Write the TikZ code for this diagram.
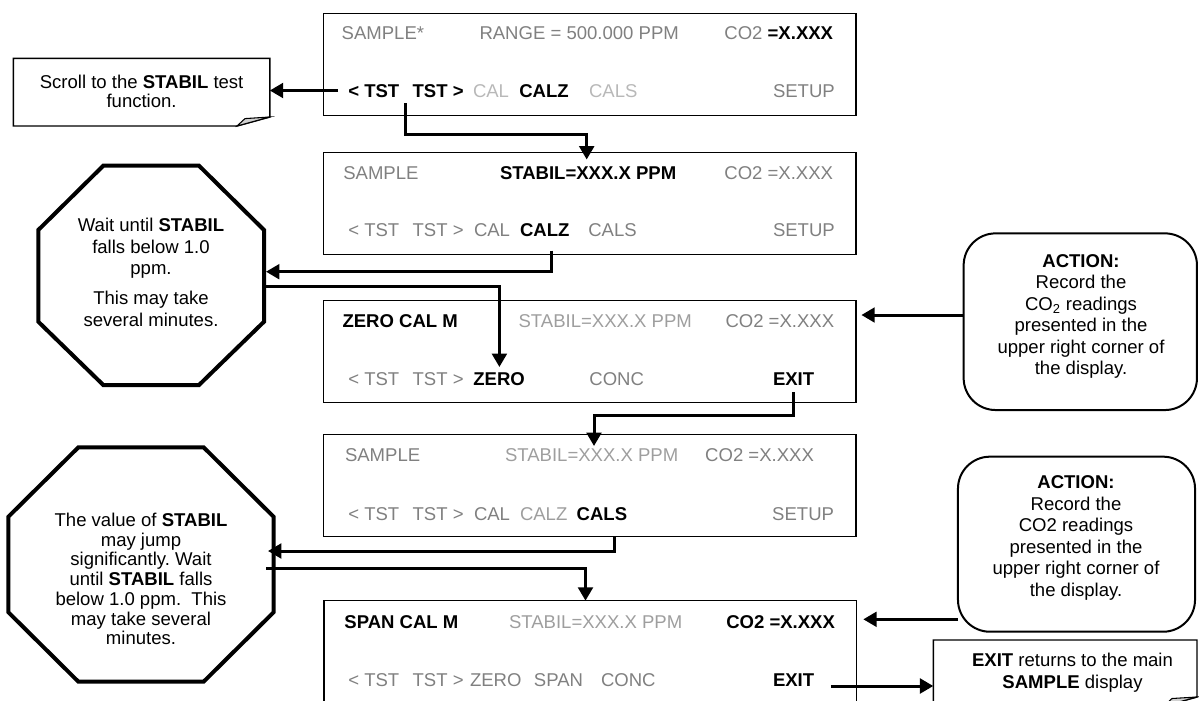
\documentclass[tikz,border=0pt]{standalone}
\usepackage{fontspec}
\setmainfont{Liberation Sans}
\usetikzlibrary{arrows.meta}
\frenchspacing
\definecolor{txtgray}{gray}{0.5}
\definecolor{ltgray}{gray}{0.62}
\definecolor{vltgray}{gray}{0.72}
\definecolor{foldgray}{gray}{0.82}
\newcommand\dfont{\fontsize{13.9}{16}\selectfont}
\begin{document}
\begin{tikzpicture}[x=0.75pt,y=-0.75pt,
  every node/.style={inner sep=0pt, outer sep=0pt},
  tx/.style={font=\dfont, anchor=base west},
  g/.style={tx, text=txtgray},
  gl/.style={tx, text=ltgray},
  gvl/.style={tx, text=vltgray},
  k/.style={tx, text=black, font=\dfont\bfseries},
  disp/.style={draw=black, line width=1pt, minimum width=399.4pt, minimum height=76.5pt},
  conn/.style={line width=2.25pt, -{Triangle[length=10pt,width=11pt]}},
  octo/.style={draw=black, line width=3pt, line join=miter, fill=white},
  actbox/.style={draw=black, line width=1.5pt, rounded corners=24pt},
  notebox/.style={draw=black, line width=1.1pt, fill=white},
  para/.style={align=center, text=black}
]
\useasboundingbox (0,0) rectangle (1199,700);

% ---------- display boxes ----------
\node[disp] (d1) at (589.75,64.2) {};
\node[disp] (d2) at (589.75,203.3) {};
\node[disp] (d3) at (589.75,351.2) {};
\node[disp] (d4) at (589.75,485.5) {};
\node[disp] (d5) at (590.25,651.7) {};

% box 1
\node[g]   (b1a) at (341.7,39) {SAMPLE*};
\node[g]   (b1b) at (479.5,39) {RANGE = 500.000 PPM};
\node[g]   (b1c) at (724.4,39) {CO2 {\color{black}\bfseries =X.XXX}};
\node[k]   (b1d) at (348.3,97) {<~TST\hspace{0.72em}TST~>};
\node[gvl] (b1e) at (473,97) {CAL};
\node[k]   (b1f) at (519.3,97) {CALZ};
\node[gvl] (b1g) at (589,97) {CALS};
\node[g]   (b1h) at (773,97) {SETUP};

% box 2
\node[g]  (b2a) at (343.3,179.6) {SAMPLE};
\node[k]  (b2b) at (500,179.6) {STABIL=XXX.X PPM};
\node[g]  (b2c) at (724.4,179.6) {CO2 =X.XXX};
\node[g]  (b2d) at (348.3,236.5) {<~TST\hspace{0.72em}TST~>};
\node[g]  (b2e) at (474,236.5) {CAL};
\node[k]  (b2f) at (520,236.5) {CALZ};
\node[g]  (b2g) at (588.3,236.5) {CALS};
\node[g]  (b2h) at (773,236.5) {SETUP};

% box 3
\node[k]  (b3a) at (342.5,327.3) {ZERO CAL M};
\node[gl] (b3b) at (518.6,327.3) {STABIL=XXX.X PPM};
\node[g]  (b3c) at (725.5,327.3) {CO2 =X.XXX};
\node[g]  (b3d) at (348.3,385.6) {<~TST\hspace{0.72em}TST~>};
\node[k]  (b3e) at (473.4,385.6) {ZERO};
\node[g]  (b3f) at (589.4,385.6) {CONC};
\node[k]  (b3g) at (773,385.6) {EXIT};

% box 4
\node[g]  (b4a) at (345,461.6) {SAMPLE};
\node[gl] (b4b) at (505,461.6) {STABIL=XXX.X PPM};
\node[g]  (b4c) at (705.2,461.6) {CO2 =X.XXX};
\node[g]  (b4d) at (348.3,520.6) {<~TST\hspace{0.72em}TST~>};
\node[g]  (b4e) at (474,520.6) {CAL};
\node[gl] (b4f) at (520,520.6) {CALZ};
\node[k]  (b4g) at (576.7,520.6) {CALS};
\node[g]  (b4h) at (772.2,520.6) {SETUP};

% box 5
\node[k]  (b5a) at (344.4,628.6) {SPAN CAL M};
\node[gl] (b5b) at (509,628.6) {STABIL=XXX.X PPM};
\node[k]  (b5c) at (726.3,628.6) {CO2 =X.XXX};
\node[g]  (b5d) at (348.3,686.6) {<~TST\hspace{0.72em}TST~>};
\node[g]  (b5e) at (470,686.6) {ZERO};
\node[g]  (b5f) at (533.9,686.6) {SPAN};
\node[g]  (b5g) at (601,686.6) {CONC};
\node[k]  (b5h) at (773,686.6) {EXIT};

% ---------- note 1 (folded corner) ----------
\draw[notebox] (13.4,58.3) -- (269.8,58.3) -- (269.8,117) -- (237,126) -- (13.4,126) -- cycle;
\draw[line width=0.8pt, fill=foldgray] (237,126) -- (245,118.6) -- (269.8,117) -- cycle;
\node[para, font=\fontsize{13.9}{14.3}\selectfont, minimum width=192.3pt, minimum height=50.8pt] (note1) at (141.6,91) {Scroll to the \textbf{STABIL} test\\function.};

% ---------- octagons ----------
\draw[octo] (103.3,165.7) -- (199,165.7) -- (264,230) -- (264,321.7) -- (199,385) -- (103.3,385) -- (38.3,321.7) -- (38.3,230) -- cycle;
\node[para, font=\fontsize{13.9}{16.1}\selectfont] (oct1) at (151,272.5) {Wait until \textbf{STABIL}\\falls below 1.0\\ppm.\\[6.5pt]This may take\\several minutes.};

\draw[octo] (78.4,447.3) -- (203.6,447.3) -- (273.6,516.7) -- (273.6,612.3) -- (203.6,681.7) -- (78.4,681.7) -- (8.4,612.3) -- (8.4,516.7) -- cycle;
\node[para, font=\fontsize{13.9}{14.8}\selectfont] (oct2) at (141,579) {The value of \textbf{STABIL}\\may jump\\significantly. Wait\\until \textbf{STABIL} falls\\below 1.0 ppm.\ \ This\\may take several\\minutes.};

% ---------- action boxes ----------
\node[actbox, minimum width=175pt, minimum height=132.5pt] (act1) at (1080.3,321.7) {};
\node[para, font=\fontsize{13.9}{16.1}\selectfont] (act1t) at (1081,316.3) {\textbf{ACTION:}\\Record the\\CO\textsubscript{2} readings\\presented in the\\upper right corner of\\the display.};

\node[actbox, minimum width=177.8pt, minimum height=131.3pt] (act2) at (1076.5,544.2) {};
\node[para, font=\fontsize{13.9}{16.1}\selectfont] (act2t) at (1076,537.8) {\textbf{ACTION:}\\Record the\\CO2 readings\\presented in the\\upper right corner of\\the display.};

% ---------- note 2 (EXIT) ----------
\draw[notebox] (933.3,712) -- (933.3,640) -- (1197,640) -- (1197,697) -- (1164,706) -- (933.3,706);
\draw[line width=0.8pt, fill=foldgray] (1164,706) -- (1172,698.5) -- (1197,697) -- cycle;
\node[para, font=\fontsize{13.9}{16.2}\selectfont] (note2) at (1072.5,672.5) {\textbf{EXIT} returns to the main\\\textbf{SAMPLE} display};

% ---------- connector points ----------
\coordinate (a1s) at (338,90.5);
\coordinate (a1e) at (269.8,90.5);
\coordinate (a2s) at (405,103);
\coordinate (a2m) at (586.7,134.7);
\coordinate (a2e) at (586.7,159.5);
\coordinate (a3s) at (551,250.7);
\coordinate (a3m) at (551,271.7);
\coordinate (a3e) at (266,271.7);
\coordinate (a4s) at (265,286);
\coordinate (a4m) at (499.4,286);
\coordinate (a4e) at (499.4,367);
\coordinate (a5s) at (963.6,315);
\coordinate (a5e) at (861.4,315);
\coordinate (a6s) at (793.3,392.3);
\coordinate (a6m) at (793.3,415.5);
\coordinate (a6n) at (594,415.5);
\coordinate (a6e) at (594,446);
\coordinate (a7s) at (614.5,537);
\coordinate (a7m) at (614.5,551);
\coordinate (a7e) at (268,551);
\coordinate (a8s) at (266,568.3);
\coordinate (a8m) at (585.5,568.3);
\coordinate (a8e) at (585.5,600.7);
\coordinate (a9s) at (958,619.3);
\coordinate (a9e) at (863.3,619.3);
\coordinate (a10s) at (830.8,686);
\coordinate (a10e) at (933.3,686);

% ---------- connectors ----------
\draw[conn] (a1s) -- (a1e);
\draw[conn] (a2s) |- (a2m) -- (a2e);
\draw[conn] (a3s) -- (a3m) -- (a3e);
\draw[conn] (a4s) -- (a4m) -- (a4e);
\draw[conn] (a5s) -- (a5e);
\draw[conn] (a6s) -- (a6m) -- (a6n) -- (a6e);
\draw[conn] (a7s) -- (a7m) -- (a7e);
\draw[conn] (a8s) -- (a8m) -- (a8e);
\draw[conn] (a9s) -- (a9e);
\draw[conn] (a10s) -- (a10e);
\end{tikzpicture}
\end{document}
